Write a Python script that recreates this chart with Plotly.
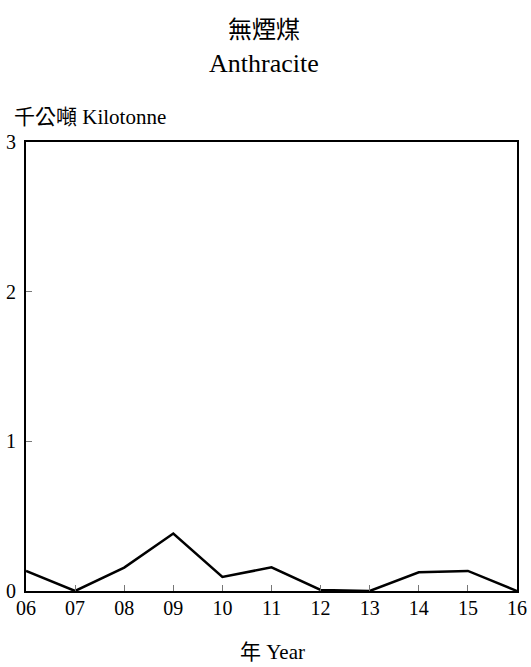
import plotly.graph_objects as go

years = ["06", "07", "08", "09", "10", "11", "12", "13", "14", "15", "16"]
values = [0.134, 0.0, 0.156, 0.384, 0.094, 0.158, 0.007, 0.0, 0.125, 0.134, 0.0]
y_ticks = [0, 1, 2, 3]

serif = "Liberation Serif, Times New Roman, serif"
cjk = "Liberation Serif, Noto Sans CJK TC, serif"

W, H = 531, 667
l, r, t, b = 26, 14, 142, 76
pw, ph = W - l - r, H - t - b

def px(xp):
    return (xp - l) / pw

def py(yp):
    return (H - b - yp) / ph

fig = go.Figure()
fig.add_trace(go.Scatter(
    x=list(range(len(years))), y=values, mode="lines",
    line=dict(color="black", width=2.5), showlegend=False, hoverinfo="skip",
    cliponaxis=False))

axis_common = dict(
    showline=True, linecolor="black", linewidth=2, mirror=True,
    ticks="inside", ticklen=6, tickcolor="#777", tickwidth=1,
    showgrid=False, zeroline=False, automargin=False,
    tickfont=dict(size=20, family=serif))

fig.update_layout(
    width=W, height=H,
    margin=dict(l=l, r=r, t=t, b=b, autoexpand=False),
    paper_bgcolor="white", plot_bgcolor="white",
    font=dict(family=serif, color="black"),
    xaxis=dict(range=[0, len(years) - 1], tickvals=list(range(len(years))),
               ticktext=years, ticklabelstandoff=-2, **axis_common),
    yaxis=dict(range=[0, 3], tickvals=y_ticks, ticktext=[str(v) for v in y_ticks],
               ticklabelstandoff=4, **axis_common),
)

def ann(text, x, y, size, fam, xanchor="center"):
    fig.add_annotation(text=text, x=px(x), y=py(y), xref="paper", yref="paper",
                       xanchor=xanchor, yanchor="middle", showarrow=False,
                       font=dict(size=size, family=fam))

ann("無煙煤", 264, 30, 24, cjk)
ann("Anthracite", 264, 64, 26, serif)
ann("千公噸 Kilotonne", 12, 117, 21, cjk, xanchor="left")
ann("年 Year", 272, 652, 21, cjk)

fig.write_html(
    "out.html",
    config={"displayModeBar": False},
    post_script="document.body.style.margin='0';document.body.style.overflow='hidden';")
